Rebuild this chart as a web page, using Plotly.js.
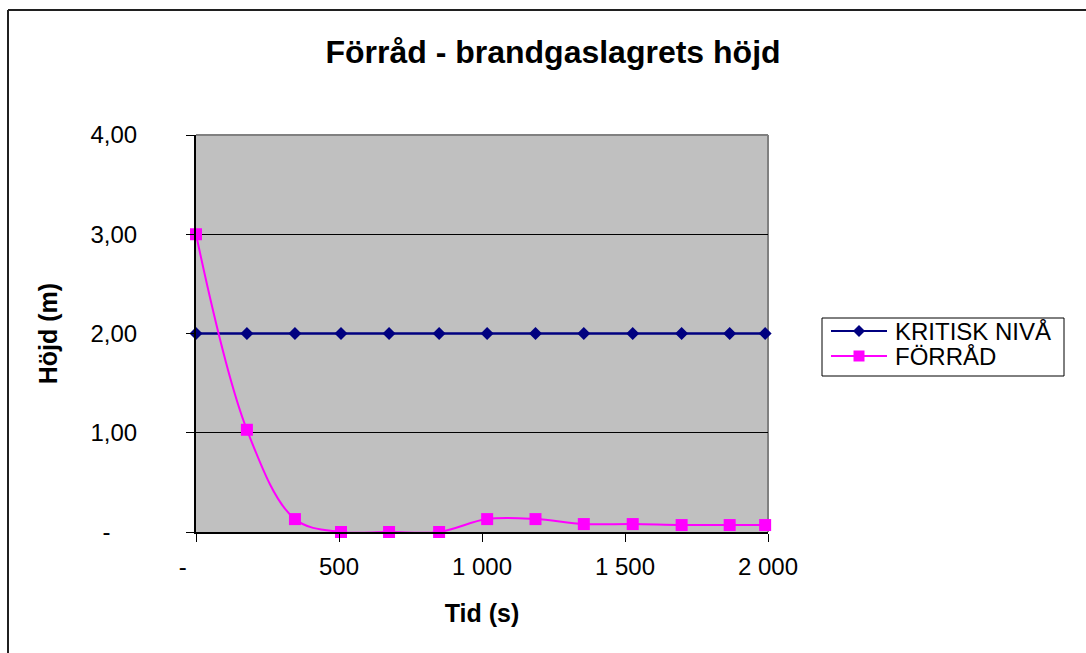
<!DOCTYPE html>
<html>
<head>
<meta charset="utf-8">
<script src="https://cdn.plot.ly/plotly-3.0.1.min.js"></script>
<style>
  html, body { margin: 0; padding: 0; background: #ffffff; }
  #chart { width: 1086px; height: 653px; }
</style>
</head>
<body>
<div id="chart"></div>
<script>
// Time points (s)
const timeSec = [0, 178, 346, 507, 675, 850, 1018, 1187, 1356, 1527, 1698, 1866, 1990];
// Critical level (m)
const kritiskNiva = [2.00, 2.00, 2.00, 2.00, 2.00, 2.00, 2.00, 2.00, 2.00, 2.00, 2.00, 2.00, 2.00];
// Smoke layer height in the storage room (m)
const forrad = [3.00, 1.03, 0.13, 0.00, 0.00, 0.00, 0.13, 0.13, 0.08, 0.08, 0.07, 0.07, 0.07];

const seriesNames = ['KRITISK NIVÅ', 'FÖRRÅD'];
const seriesColors = ['#000080', '#FF00FF'];
const xTickVals = [0, 500, 1000, 1500, 2000];
const xTickText = ['-\u2007\u2007', '500', '1 000', '1 500', '2 000'];
const yTickVals = [0, 1, 2, 3, 4];
const yTickText = ['-\u2007\u2007', '1,00', '2,00', '3,00', '4,00'];

const FONT = 'Liberation Sans, Arial, sans-serif';

// plot area in pixels
const W = 1086, H = 653;
const PL = 196, PR = 768, PT = 135, PB = 532;
const px = v => (v - PL) / (PR - PL);
const py = v => (PB - v) / (PB - PT);

const traces = [
  {
    x: timeSec, y: kritiskNiva, name: seriesNames[0],
    type: 'scatter', mode: 'lines+markers',
    line: { color: seriesColors[0], width: 2.5 },
    marker: { symbol: 'diamond', size: 10, color: seriesColors[0] },
    cliponaxis: false
  },
  {
    x: timeSec, y: forrad, name: seriesNames[1],
    type: 'scatter', mode: 'lines+markers',
    line: { color: seriesColors[1], width: 2, shape: 'spline', smoothing: 1 },
    marker: { symbol: 'square', size: 12, color: seriesColors[1] },
    cliponaxis: false
  }
];

// Legend box drawn with shapes and annotations (boxed key right of the plot)
const LEG = { x0: 822, x1: 1064, y0: 318, y1: 376, rows: [331, 356], lineX0: 831, lineX1: 887, textX: 893 };
const legendShapes = [
  { type: 'rect', xref: 'paper', yref: 'paper',
    x0: px(LEG.x0), x1: px(LEG.x1), y0: py(LEG.y0), y1: py(LEG.y1),
    line: { color: '#000000', width: 1 }, fillcolor: '#ffffff' }
];
const legendAnnotations = [];
seriesNames.forEach((name, i) => {
  const ry = LEG.rows[i];
  const cx = (LEG.lineX0 + LEG.lineX1) / 2;
  legendShapes.push({ type: 'line', xref: 'paper', yref: 'paper',
    x0: px(LEG.lineX0), x1: px(LEG.lineX1), y0: py(ry), y1: py(ry),
    line: { color: seriesColors[i], width: 2 } });
  let path;
  if (i === 0) {
    const r = 6;
    path = `M${px(cx - r)},${py(ry)} L${px(cx)},${py(ry - r)} L${px(cx + r)},${py(ry)} L${px(cx)},${py(ry + r)} Z`;
  } else {
    const r = 5.5;
    path = `M${px(cx - r)},${py(ry - r)} L${px(cx + r)},${py(ry - r)} L${px(cx + r)},${py(ry + r)} L${px(cx - r)},${py(ry + r)} Z`;
  }
  legendShapes.push({ type: 'path', xref: 'paper', yref: 'paper', path: path,
    fillcolor: seriesColors[i], line: { width: 0 } });
  legendAnnotations.push({ xref: 'paper', yref: 'paper', x: px(LEG.textX), y: py(ry),
    xanchor: 'left', yanchor: 'middle', showarrow: false, text: name,
    font: { family: FONT, size: 24, color: '#000000' } });
});

const layout = {
  width: W, height: H,
  margin: { l: PL, r: W - PR, t: PT, b: H - PB, pad: 0 },
  paper_bgcolor: '#ffffff',
  plot_bgcolor: '#C0C0C0',
  font: { family: FONT, color: '#000000', size: 24 },
  showlegend: false,
  title: {
    text: 'Förråd - brandgaslagrets höjd',
    font: { family: FONT, size: 32, weight: 'bold', color: '#000000' },
    xref: 'container', x: 553 / W, xanchor: 'center',
    yref: 'container', y: 1 - 52 / H, yanchor: 'middle'
  },
  xaxis: {
    range: [0, 2000],
    tickmode: 'array', tickvals: xTickVals, ticktext: xTickText,
    ticks: 'outside', ticklen: 8, tickwidth: 1, tickcolor: '#000000',
    ticklabelstandoff: 4,
    showgrid: false, zeroline: false,
    showline: true, linecolor: '#000000', linewidth: 2,
    tickfont: { family: FONT, size: 24, color: '#000000' },
    title: { text: 'Tid (s)', font: { family: FONT, size: 25, weight: 'bold' }, standoff: 26 },
    fixedrange: true
  },
  yaxis: {
    range: [0, 4],
    tickmode: 'array', tickvals: yTickVals, ticktext: yTickText,
    ticks: 'outside', ticklen: 8, tickwidth: 1, tickcolor: '#000000',
    ticklabelstandoff: 44,
    showgrid: true, gridcolor: '#000000', gridwidth: 1,
    zeroline: false,
    showline: true, linecolor: '#000000', linewidth: 2,
    tickfont: { family: FONT, size: 24, color: '#000000' },
    title: { text: 'Höjd (m)', font: { family: FONT, size: 25, weight: 'bold' }, standoff: 26 },
    fixedrange: true
  },
  annotations: legendAnnotations,
  shapes: [
    // plot area frame (top and right)
    { type: 'line', xref: 'paper', yref: 'paper', x0: 0, x1: 1, y0: 1, y1: 1,
      line: { color: '#808080', width: 2 }, layer: 'below' },
    { type: 'line', xref: 'paper', yref: 'paper', x0: 1, x1: 1, y0: 0, y1: 1,
      line: { color: '#808080', width: 2 }, layer: 'below' },
    // chart frame
    { type: 'line', xref: 'paper', yref: 'paper', x0: px(8), x1: px(W + 5), y0: py(10), y1: py(10),
      line: { color: '#202020', width: 2 } },
    { type: 'line', xref: 'paper', yref: 'paper', x0: px(8), x1: px(8), y0: py(10), y1: py(H + 5),
      line: { color: '#202020', width: 2 } }
  ].concat(legendShapes)
};

Plotly.newPlot('chart', traces, layout, { displayModeBar: false, staticPlot: true });
</script>
</body>
</html>
